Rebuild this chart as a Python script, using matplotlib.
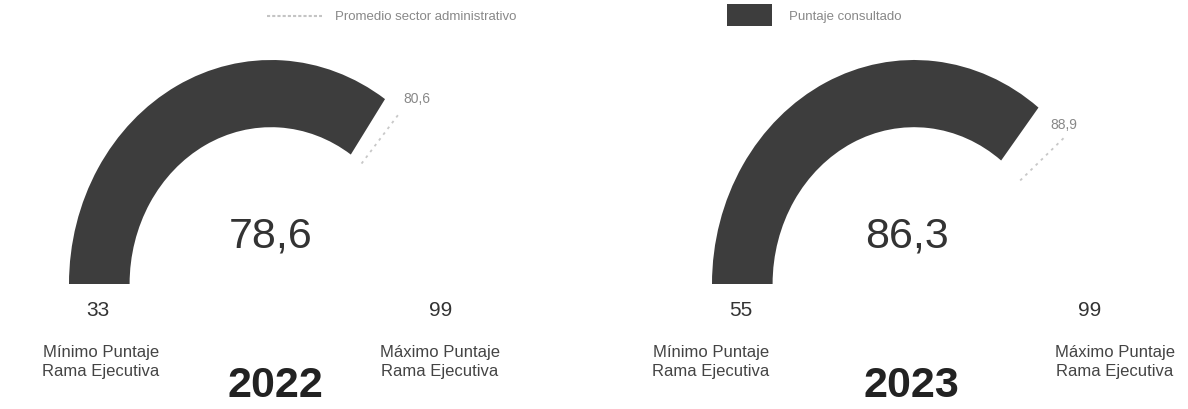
import numpy as np
import matplotlib
matplotlib.use("Agg")
import matplotlib.pyplot as plt
from matplotlib.patches import Wedge, Rectangle

# ---- data ----
years = ["2022", "2023"]
scores = [78.6, 86.3]
averages = [80.6, 88.9]
mins = [33, 55]
maxs = [99, 99]
score_labels = ["78,6", "86,3"]
avg_labels = ["80,6", "88,9"]
min_caption = "Mínimo Puntaje\nRama Ejecutiva"
max_caption = "Máximo Puntaje\nRama Ejecutiva"
legend_labels = ["Promedio sector administrativo", "Puntaje consultado"]

plt.rcParams['font.family'] = ['Liberation Sans', 'DejaVu Sans']

DARK = "#3d3d3d"
W, H = 1188, 410
fig = plt.figure(figsize=(W / 100, H / 100), dpi=100)
ax = fig.add_axes([0, 0, 1, 1])
RX, RY = 202, 224  # pixels per gauge unit (x, y)
ax.set_xlim(0, W / RX)
ax.set_ylim(0, H / RY)
ax.axis('off')


def px(x):
    return x / RX


def py(y):
    return (H - y) / RY


centers_px = [271, 914]
text_shift = [0, -7]
avg_dx = [6, -14]
num_pos = [(98, 441), (741, 1090)]
cap_pos = [(101, 440), (711, 1115)]
cy = py(285)

for i in range(2):
    cx = px(centers_px[i])
    frac = (scores[i] - mins[i]) / (maxs[i] - mins[i])
    ang = 180 * (1 - frac)
    ax.add_patch(Wedge((cx, cy), 1.0, ang, 180, width=0.3, fc=DARK, ec='none'))

    afrac = (averages[i] - mins[i]) / (maxs[i] - mins[i])
    t = np.deg2rad(180 * (1 - afrac))
    ax.plot([cx + 0.7 * np.cos(t), cx + 1.0 * np.cos(t)],
            [cy + 0.7 * np.sin(t), cy + 1.0 * np.sin(t)],
            ls=(0, (1.5, 2.5)), color="#c8c8c8", lw=1.3)
    ax.text(cx + 1.08 * np.cos(t) + px(avg_dx[i]), cy + 1.08 * np.sin(t),
            avg_labels[i], ha='center', va='center', fontsize=10,
            color="#888888")

    tx = px(centers_px[i] + text_shift[i])
    ax.text(tx, py(237), score_labels[i], ha='center', va='center',
            fontsize=31, color="#333333")
    ax.text(tx + px(4), py(386), years[i], ha='center', va='center',
            fontsize=31, fontweight='bold', color="#222222")

    ax.text(px(num_pos[i][0]), py(311), str(mins[i]), ha='center',
            va='center', fontsize=15, color="#333333")
    ax.text(px(num_pos[i][1]), py(311), str(maxs[i]), ha='center',
            va='center', fontsize=15, color="#333333")
    ax.text(px(cap_pos[i][0]), py(362), min_caption, ha='center',
            va='center', fontsize=12, color="#444444", linespacing=1.3)
    ax.text(px(cap_pos[i][1]), py(362), max_caption, ha='center',
            va='center', fontsize=12, color="#444444", linespacing=1.3)

# ---- legend ----
ax.plot([px(267), px(322)], [py(17), py(17)], ls=(0, (1.5, 1)),
        color="#c4c4c4", lw=1.5)
ax.text(px(335), py(17), legend_labels[0], ha='left', va='center',
        fontsize=9.5, color="#888888")
ax.add_patch(Rectangle((px(727), py(27)), px(45), 22 / RY, fc=DARK, ec='none'))
ax.text(px(789), py(17), legend_labels[1], ha='left', va='center',
        fontsize=9.5, color="#888888")

fig.savefig("out.png", dpi=100)
